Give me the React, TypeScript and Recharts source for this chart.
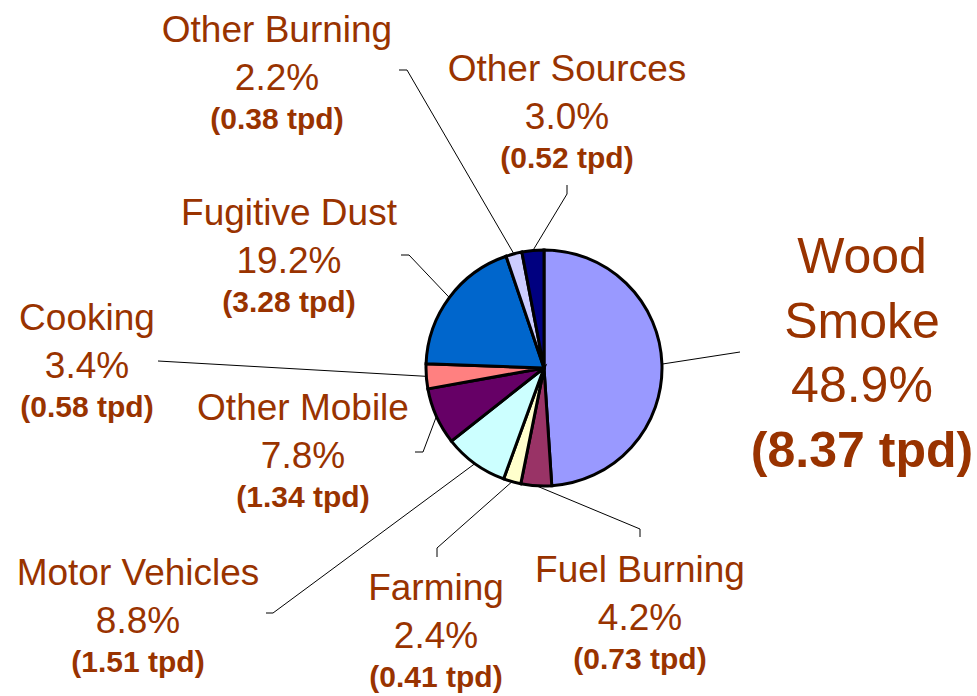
import { Pie, PieChart, Cell } from "recharts";

const sources = [
  "Wood Smoke",
  "Fuel Burning",
  "Farming",
  "Motor Vehicles",
  "Other Mobile",
  "Cooking",
  "Fugitive Dust",
  "Other Burning",
  "Other Sources",
];
const shares = [48.9, 4.2, 2.4, 8.8, 7.8, 3.4, 19.2, 2.2, 3.0];
const tpd = ["8.37", "0.73", "0.41", "1.51", "1.34", "0.58", "3.28", "0.38", "0.52"];
const colors = [
  "#9999FF",
  "#993366",
  "#FFFFCC",
  "#CCFFFF",
  "#660066",
  "#FF8080",
  "#0066CC",
  "#CCCCFF",
  "#000080",
];

const chartData = sources.map((name, i) => ({ name, value: shares[i], tpd: tpd[i] }));

// where each label sits and how its leader line bends (page coords)
const labelSpots = [
  { x: 862, y: 273, big: true, line: [[740, 352]] },
  { x: 640, y: 582, line: [[640, 529], [640, 537]] },
  { x: 436, y: 600, line: [[437, 548], [437, 557]] },
  { x: 138, y: 585, line: [[273, 613], [266, 613]] },
  { x: 303, y: 420, line: [[423, 452], [415, 452]] },
  { x: 87, y: 330, line: [[158, 361]] },
  { x: 289, y: 225, line: [[409, 255], [401, 255]] },
  { x: 277, y: 42, line: [[407, 70], [399, 70]] },
  { x: 567, y: 81, line: [[567, 194], [567, 185]] },
];

const brown = "#993300";
const font = "'Liberation Sans', Arial, Helvetica, sans-serif";

function renderLabel(props: any) {
  const { cx, cy, midAngle, outerRadius, index } = props;
  const RAD = Math.PI / 180;
  const sx = cx + outerRadius * Math.cos(-midAngle * RAD);
  const sy = cy + outerRadius * Math.sin(-midAngle * RAD);
  const spot = labelSpots[index];
  const pts = [[sx, sy], ...spot.line].map((p) => p.join(",")).join(" ");
  const d = chartData[index];

  if (spot.big) {
    const words = d.name.split(" ");
    return (
      <g key={`lbl-${index}`}>
        <polyline points={pts} fill="none" stroke="#000" strokeWidth={1} />
        <text x={spot.x} y={spot.y} textAnchor="middle" fill={brown} fontFamily={font} fontSize={50}>
          {words[0]}
        </text>
        <text x={spot.x} y={spot.y + 65} textAnchor="middle" fill={brown} fontFamily={font} fontSize={50}>
          {words[1]}
        </text>
        <text x={spot.x} y={spot.y + 129} textAnchor="middle" fill={brown} fontFamily={font} fontSize={50}>
          {d.value.toFixed(1)}%
        </text>
        <text
          x={spot.x}
          y={spot.y + 194}
          textAnchor="middle"
          fill={brown}
          fontFamily={font}
          fontSize={50}
          fontWeight="bold"
        >
          ({d.tpd} tpd)
        </text>
      </g>
    );
  }

  return (
    <g key={`lbl-${index}`}>
      <polyline points={pts} fill="none" stroke="#000" strokeWidth={1} />
      <text x={spot.x} y={spot.y} textAnchor="middle" fill={brown} fontFamily={font} fontSize={37}>
        {d.name}
      </text>
      <text x={spot.x} y={spot.y + 48} textAnchor="middle" fill={brown} fontFamily={font} fontSize={37}>
        {d.value.toFixed(1)}%
      </text>
      <text
        x={spot.x}
        y={spot.y + 87}
        textAnchor="middle"
        fill={brown}
        fontFamily={font}
        fontSize={30}
        fontWeight="bold"
      >
        ({d.tpd} tpd)
      </text>
    </g>
  );
}

export default function App() {
  return (
    <div style={{ position: "absolute", left: 0, top: 0, background: "#fff" }}>
      <PieChart width={977} height={696} margin={{ top: 0, right: 0, bottom: 0, left: 0 }}>
        <Pie
          data={chartData}
          dataKey="value"
          nameKey="name"
          cx={544}
          cy={368}
          outerRadius={118}
          startAngle={90}
          endAngle={-270}
          stroke="#000"
          strokeWidth={3}
          label={renderLabel}
          labelLine={false}
          isAnimationActive={false}
        >
          {chartData.map((d, i) => (
            <Cell key={d.name} fill={colors[i]} />
          ))}
        </Pie>
      </PieChart>
    </div>
  );
}
